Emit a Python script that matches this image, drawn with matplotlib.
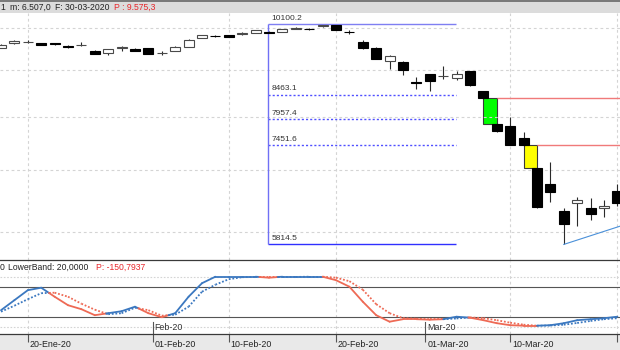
import matplotlib
matplotlib.use('Agg')
import matplotlib.pyplot as plt
import numpy as np
from matplotlib.collections import LineCollection
from matplotlib.patches import Rectangle
from matplotlib.lines import Line2D

plt.rcParams['font.family'] = ['Liberation Sans', 'DejaVu Sans']

# ---------------- data ----------------
dates = ['16-01', '17-01', '20-01', '21-01', '22-01', '23-01', '24-01', '27-01', '28-01', '29-01',
         '30-01', '31-01', '03-02', '04-02', '05-02', '06-02', '07-02', '10-02', '11-02', '12-02',
         '13-02', '14-02', '17-02', '18-02', '19-02', '20-02', '21-02', '24-02', '25-02', '26-02',
         '27-02', '28-02', '02-03', '03-03', '04-03', '05-03', '06-03', '09-03', '10-03', '11-03',
         '12-03', '13-03', '16-03', '17-03', '18-03', '19-03', '20-03']
opens = [9522, 9625, 9662, 9625, 9625, 9560, 9580, 9448, 9391, 9520, 9479, 9511, 9395, 9448, 9548,
         9765, 9810, 9822, 9865, 9880, 9915, 9915, 9980, 9990, 10045, 10083, 9905, 9666, 9520, 9220,
         9195, 8740, 8905, 8865, 8825, 8972, 8540, 7872, 7818, 7584, 7040, 6766, 6323, 6443, 6372,
         6364, 6647]
closes = [9584, 9690, 9668, 9584, 9600, 9548, 9590, 9377, 9479, 9530, 9448, 9377, 9405, 9548, 9714,
          9822, 9800, 9790, 9875, 9948, 9890, 9973, 10016, 9985, 10084, 9956, 9895, 9504, 9266, 9337,
          8996, 8723, 8757, 8875, 8920, 8682, 8388, 7718, 7460, 7455, 6390, 6636, 6113, 6497, 6282,
          6399, 6454]
highs = [9600, 9710, 9697, 9637, 9637, 9584, 9650, 9467, 9484, 9551, 9513, 9520, 9432, 9560, 9722,
         9835, 9822, 9830, 9910, 9961, 9923, 9986, 10028, 10010, 10100.2, 10088, 9956, 9697, 9537, 9356,
         9220, 8845, 8920, 9087, 8982, 8982, 8547, 7878, 8012, 7712, 7040, 7141, 6364, 6551, 6524,
         6497, 6766]
lows = [9504, 9613, 9625, 9577, 9590, 9504, 9553, 9372, 9360, 9448, 9432, 9372, 9360, 9432, 9541,
        9760, 9773, 9780, 9822, 9872, 9880, 9910, 9973, 9960, 10030, 9950, 9848, 9480, 9254, 9034,
        8882, 8587, 8550, 8808, 8790, 8647, 8372, 7704, 7455, 7450, 6364, 6469, 5814.5, 6087, 6176,
        6228, 6405]

# stochastic-type oscillator (%K solid, %D dotted)
k_vals = [33, 53, 73, 78, 60, 43, 35, 23, 27, 31, 40, 27, 19, 27, 60, 87, 100, 100, 100, 100, 98,
          100, 100, 100, 100, 93, 80, 50, 23, 10, 15, 15, 14, 15, 20, 18, 13, 7, 3, 2, 2, 3, 7, 13,
          15, 17, 20]
d_vals = [30, 42, 55, 67, 68, 60, 46, 34, 25, 27, 38, 33, 22, 24, 40, 70, 84, 95, 99, 99.5, 99.3,
          99.3, 99.5, 100, 100, 98, 91, 74, 45, 27, 17, 16, 15, 15, 16.5, 18.5, 17, 13, 8, 4, 2, 2.3,
          4, 7.5, 11.5, 15, 17]
upper_band = 80
lower_band = 20

# Fibonacci retracement
fib_levels = [10100.2, 8463.1, 7957.4, 7451.6, 5814.5]
fib_labels = ['10100.2', '8463.1', '7957.4', '7451.6', '5814.5']
fib_x = [19.93, 33.96]

# gaps (previous candle index, next candle index)
gaps = [(36, 37), (39, 40)]
gap_colors = ['#00ff00', '#ffff00']

# trend line
trend_x = [42, 47]
trend_y = [5814.5, 6140]

# x-axis labels
day_ticks = [2, 17, 25, 38, 46]
day_labels = ['20-Ene-20', '10-Feb-20', '20-Feb-20', '10-Mar-20', '20-Mar-20']
month_ticks = [11.333, 31.667]
month_day_labels = ['01-Feb-20', '01-Mar-20']
month_labels = ['Feb-20', 'Mar-20']

price_grid = [6000, 7000, 8000, 9000, 10000]

# ---------------- figure ----------------
W, H = 620, 350
fig = plt.figure(figsize=(6.2, 3.5), dpi=100)
fig.patch.set_facecolor('white')


def fy(y):
    return 1 - y / H


XLIM = (-1 / 13.4, 619 / 13.4)
BLUE = '#3b78c0'
RED = '#ee6a55'
GRID = '#d4d4d4'

# header bar
fig.add_artist(Rectangle((0, fy(12.5)), 1, 12.5 / H, transform=fig.transFigure,
                         facecolor='#dcdcdc', edgecolor='none', zorder=0))
fig.add_artist(Rectangle((0, fy(1.5)), 1, 1.5 / H, transform=fig.transFigure,
                         facecolor='#7a7a7a', edgecolor='none', zorder=1))
hdr_fs = 6.2
fig.text(0 / W, fy(7), '1', fontsize=hdr_fs, color='#222222', va='center', ha='left')
fig.text(10 / W, fy(7), 'm: 6.507,0', fontsize=hdr_fs, color='#222222', va='center', ha='left')
fig.text(55 / W, fy(7), 'F: 30-03-2020', fontsize=hdr_fs, color='#222222', va='center', ha='left')
fig.text(114 / W, fy(7), 'P : 9.575,3', fontsize=hdr_fs, color='#e8262b', va='center', ha='left')

# ---------------- main price panel ----------------
ax = fig.add_axes([0, fy(259.5), 1, (259.5 - 12.5) / H])
ax.set_yscale('log')
ax.set_xlim(*XLIM)
ax.set_ylim(5598.7, 10400)
for s in ax.spines.values():
    s.set_visible(False)
ax.set_xticks([])
ax.set_yticks([])
ax.minorticks_off()
ax.yaxis.set_minor_locator(matplotlib.ticker.NullLocator())

for p in price_grid:
    ax.axhline(p, color=GRID, lw=0.8, ls=(0, (2.5, 2.5)), zorder=2)
for t in day_ticks:
    ax.axvline(t, color=GRID, lw=0.8, ls=(0, (2.5, 2.5)), zorder=2)

x = np.arange(len(opens))
o = np.array(opens, float)
c = np.array(closes, float)
hi = np.array(highs, float)
lo = np.array(lows, float)
up = c >= o
bw = 0.75

ax.vlines(x, lo, hi, color='#2a2a2a', lw=0.8, zorder=3)
ax.bar(x[up], (c - o)[up], bottom=o[up], width=bw, facecolor='white',
       edgecolor='#4a4a4a', lw=0.8, zorder=4)
ax.bar(x[~up], (o - c)[~up], bottom=c[~up], width=bw, facecolor='black',
       edgecolor='black', lw=0.8, zorder=4)

# gap boxes and gap lines
for (a, b), col in zip(gaps, gap_colors):
    top = closes[a]
    bot = opens[b]
    ax.bar(a, top - bot, bottom=bot, width=b - a, align='edge', facecolor=col,
           edgecolor='#3a3a3a', lw=0.8, zorder=1.5)
    ax.hlines(top, b, XLIM[1] + 1, color='#f07a7a', lw=1.0, zorder=3)

# fibonacci
ax.hlines(fib_levels[0], fib_x[0], fib_x[1], color='#7f7ff2', lw=1.0, zorder=3)
ax.hlines(fib_levels[-1], fib_x[0], fib_x[1], color='#3030ff', lw=1.0, zorder=3)
for lv in fib_levels[1:-1]:
    ax.hlines(lv, fib_x[0], fib_x[1], color='#5050ff', lw=1.0, ls=(0, (1.5, 1.5)), zorder=3)
ax.vlines(fib_x[0], fib_levels[-1], fib_levels[0], color='#7070f5', lw=1.0, zorder=3)
for lv, lab in zip(fib_levels, fib_labels):
    ax.annotate(lab, (fib_x[0], lv), xytext=(3.5, 6), textcoords='offset pixels',
                fontsize=6.0, color='#333333', va='center', ha='left', zorder=5)

# trend line
ax.plot(trend_x, trend_y, color='#4a90d9', lw=0.8, zorder=3, clip_on=True)

# separator line
fig.add_artist(Line2D([0, 1], [fy(260), fy(260)], transform=fig.transFigure,
                      color='#3a3a3a', lw=0.9))

# ---------------- indicator panel ----------------
ax2 = fig.add_axes([0, fy(334), 1, (334 - 260.5) / H])
ax2.set_xlim(*XLIM)
ax2.set_ylim(-14.6, 132.4)
for s in ax2.spines.values():
    s.set_visible(False)
ax2.set_xticks([])
ax2.set_yticks([])
for t in day_ticks:
    ax2.axvline(t, color=GRID, lw=0.8, ls=(0, (2.5, 2.5)), zorder=1)
ax2.axhline(100, color=GRID, lw=0.8, ls=(0, (1.5, 1.5)), zorder=1)
ax2.axhline(0, color=GRID, lw=0.8, ls=(0, (1.5, 1.5)), zorder=1)
ax2.axhline(upper_band, color='#555555', lw=0.8, zorder=2)
ax2.axhline(lower_band, color='#555555', lw=0.8, zorder=2)

K = np.array(k_vals, float)
D = np.array(d_vals, float)
diff = K - D
k_segs, d_segs, cols = [], [], []
for i in range(len(K) - 1):
    d0, d1 = diff[i], diff[i + 1]
    s0, s1 = d0 >= 0, d1 >= 0
    if s0 == s1 or d0 == d1:
        k_segs.append([(i, K[i]), (i + 1, K[i + 1])])
        d_segs.append([(i, D[i]), (i + 1, D[i + 1])])
        cols.append(BLUE if s1 else RED)
    else:
        t = d0 / (d0 - d1)
        xm = i + t
        km = K[i] + t * (K[i + 1] - K[i])
        dm = D[i] + t * (D[i + 1] - D[i])
        k_segs += [[(i, K[i]), (xm, km)], [(xm, km), (i + 1, K[i + 1])]]
        d_segs += [[(i, D[i]), (xm, dm)], [(xm, dm), (i + 1, D[i + 1])]]
        cols += [BLUE if s0 else RED, BLUE if s1 else RED]

ax2.add_collection(LineCollection(d_segs, colors=cols, linewidths=1.3,
                                  linestyles=[(0, (1.0, 1.0))], zorder=3))
ax2.add_collection(LineCollection(k_segs, colors=cols, linewidths=1.3, zorder=4,
                                  capstyle='round'))

fig.text(0 / W, fy(267.5), '0', fontsize=6.2, color='#222222', va='center', ha='left')
fig.text(8 / W, fy(267.5), 'LowerBand: 20,0000', fontsize=6.2, color='#222222', va='center', ha='left')
fig.text(96 / W, fy(267.5), 'P: -150,7937', fontsize=6.2, color='#e8262b', va='center', ha='left')

# month markers inside indicator panel
for t, lab in zip(month_ticks, month_labels):
    ax2.axvline(t, ymin=0, ymax=12 / 73.5, color='#555555', lw=0.8, zorder=5)
    ax2.annotate(lab, (t, 0), xycoords=('data', 'axes fraction'), xytext=(1.5, 6.5),
                 textcoords='offset pixels', fontsize=6.4, color='#333333', va='center', ha='left')

fig.add_artist(Line2D([0, 1], [fy(334.3), fy(334.3)], transform=fig.transFigure,
                      color='#3a3a3a', lw=0.9))

# ---------------- date strip ----------------
ax3 = fig.add_axes([0, 0, 1, 15.7 / H])
ax3.set_facecolor('#e9e9e9')
ax3.set_xlim(*XLIM)
ax3.set_ylim(350, 334.3)
for s in ax3.spines.values():
    s.set_visible(False)
ax3.set_xticks([])
ax3.set_yticks([])
all_ticks = day_ticks + month_ticks
all_labels = day_labels + month_day_labels
for t, lab in zip(all_ticks, all_labels):
    ax3.vlines(t, 334.3, 341.5, color='#555555', lw=0.8)
    ax3.annotate(lab, (t, 344.3), xytext=(2, 0), textcoords='offset pixels',
                 fontsize=6.4, color='#222222', va='center', ha='left', annotation_clip=False)

fig.savefig('out.png', dpi=100, facecolor='white')
